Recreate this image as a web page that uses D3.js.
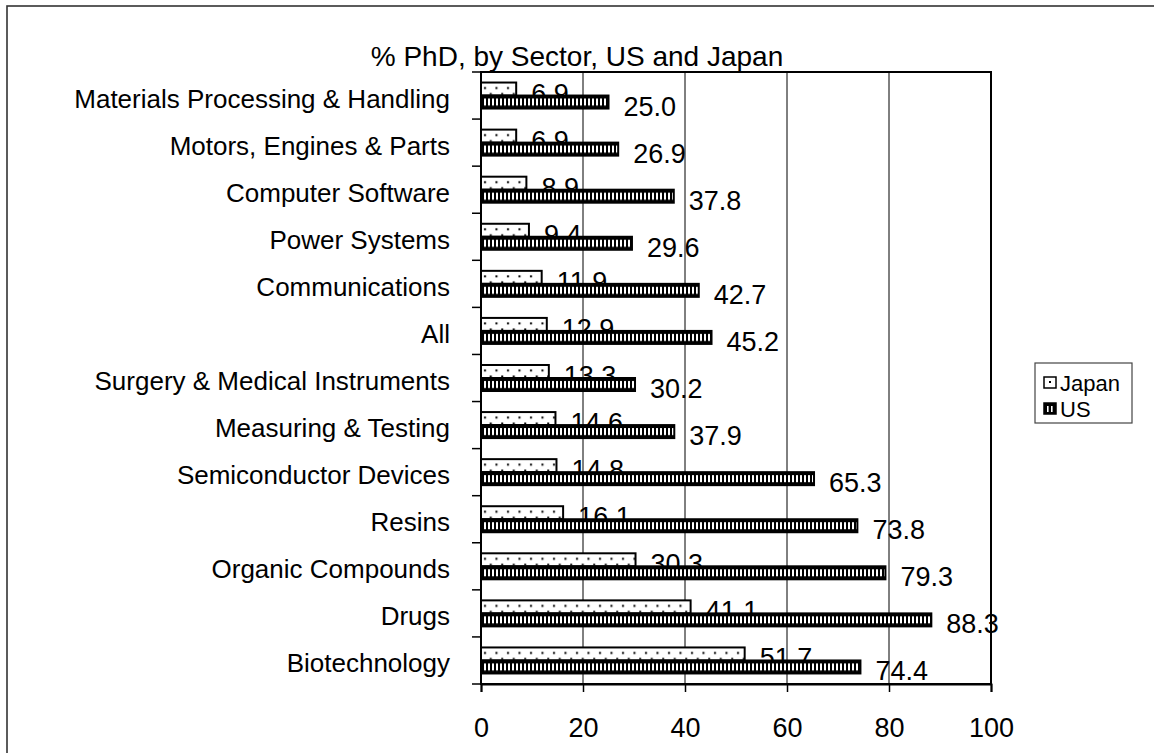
<!DOCTYPE html>
<html>
<head>
<meta charset="utf-8">
<script src="https://cdn.jsdelivr.net/npm/d3@7"></script>
<style>
  html, body { margin: 0; padding: 0; background: #fff; }
  svg { display: block; }
  text { font-family: "Liberation Sans", Arial, sans-serif; fill: #000; }
</style>
</head>
<body>
<svg id="chart" width="1154" height="753"></svg>
<script>
// ---- data ----
const categories = [
  "Materials Processing & Handling",
  "Motors, Engines & Parts",
  "Computer Software",
  "Power Systems",
  "Communications",
  "All",
  "Surgery & Medical Instruments",
  "Measuring & Testing",
  "Semiconductor Devices",
  "Resins",
  "Organic Compounds",
  "Drugs",
  "Biotechnology"
];
const japanValues = [6.9, 6.9, 8.9, 9.4, 11.9, 12.9, 13.3, 14.6, 14.8, 16.1, 30.3, 41.1, 51.7];
const usValues    = [25.0, 26.9, 37.8, 29.6, 42.7, 45.2, 30.2, 37.9, 65.3, 73.8, 79.3, 88.3, 74.4];
const seriesNames = ["Japan", "US"];
const xTicks = [0, 20, 40, 60, 80, 100];
const title = "% PhD, by Sector, US and Japan";

// ---- layout ----
const svg = d3.select("#chart");
const plot = { left: 481, right: 991, top: 72, bottom: 684 };

const x = d3.scaleLinear().domain([0, 100]).range([plot.left, plot.right]);
const y = d3.scaleBand().domain(categories).range([plot.top, plot.bottom]).padding(0);
const ySub = d3.scaleBand().domain(seriesNames).range([0, y.bandwidth()])
  .paddingInner(0).paddingOuter(0.81);
const bh = ySub.bandwidth();

const defs = svg.append("defs");
// dotted pattern for Japan
const pJ = defs.append("pattern").attr("id", "patJapan")
  .attr("patternUnits", "userSpaceOnUse")
  .attr("x", plot.left).attr("y", plot.top)
  .attr("width", 11.5).attr("height", y.step());
pJ.append("rect").attr("width", 11.5).attr("height", y.step()).attr("fill", "#fff");
pJ.append("rect").attr("x", 3).attr("y", ySub("Japan") + 4.5).attr("width", 2).attr("height", 2).attr("fill", "#000");
pJ.append("rect").attr("x", 8.75).attr("y", ySub("Japan") + 10.5).attr("width", 2).attr("height", 2).attr("fill", "#000");

// vertical stripe pattern for US
const pU = defs.append("pattern").attr("id", "patUS")
  .attr("patternUnits", "userSpaceOnUse")
  .attr("x", plot.left + 1).attr("y", plot.top)
  .attr("width", 4).attr("height", y.step());
pU.append("rect").attr("width", 4).attr("height", y.step()).attr("fill", "#000");
pU.append("rect").attr("x", 2).attr("y", ySub("US") + 3).attr("width", 2).attr("height", bh - 6).attr("fill", "#fff");

// ---- outer frame ----
svg.append("rect").attr("x", 7).attr("y", 6).attr("width", 1170).attr("height", 770)
  .attr("fill", "none").attr("stroke", "#333").attr("stroke-width", 1.6);

// ---- title ----
svg.append("text").attr("x", 577).attr("y", 66).attr("text-anchor", "middle")
  .style("font-size", "28px").text(title);

// ---- gridlines ----
svg.append("g").selectAll("line").data(xTicks.filter(d => d > 0 && d < 100)).join("line")
  .attr("x1", d => x(d)).attr("x2", d => x(d))
  .attr("y1", plot.top).attr("y2", plot.bottom)
  .attr("stroke", "#000").attr("stroke-width", 1);

// ---- bars ----
const rows = categories.map((c, i) => ({ cat: c, Japan: japanValues[i], US: usValues[i] }));

const gJ = svg.append("g");
gJ.selectAll("rect").data(rows).join("rect")
  .attr("x", x(0))
  .attr("y", d => y(d.cat) + ySub("Japan"))
  .attr("width", d => x(d.Japan) - x(0))
  .attr("height", bh)
  .attr("fill", "url(#patJapan)")
  .attr("stroke", "#000").attr("stroke-width", 2);

svg.append("g").selectAll("text").data(rows).join("text")
  .attr("x", d => x(d.Japan) + 15)
  .attr("y", d => y(d.cat) + ySub("Japan") + 20)
  .style("font-size", "27px")
  .text(d => d3.format(".1f")(d.Japan));

const gU = svg.append("g");
gU.selectAll("rect").data(rows).join("rect")
  .attr("x", x(0))
  .attr("y", d => y(d.cat) + ySub("US"))
  .attr("width", d => x(d.US) - x(0))
  .attr("height", bh)
  .attr("fill", "url(#patUS)")
  .attr("stroke", "#000").attr("stroke-width", 2);

svg.append("g").selectAll("text").data(rows).join("text")
  .attr("x", d => x(d.US) + 15)
  .attr("y", d => y(d.cat) + ySub("US") + 20)
  .style("font-size", "27px")
  .text(d => d3.format(".1f")(d.US));

// ---- plot border ----
svg.append("rect").attr("x", plot.left).attr("y", plot.top)
  .attr("width", plot.right - plot.left).attr("height", plot.bottom - plot.top)
  .attr("fill", "none").attr("stroke", "#000").attr("stroke-width", 2);

// ---- x axis ----
const xAxis = svg.append("g").attr("transform", `translate(0,${plot.bottom})`)
  .call(d3.axisBottom(x).tickValues(xTicks).tickFormat(d3.format("d")).tickSize(8).tickPadding(26));
xAxis.select(".domain").attr("stroke", "#000").attr("stroke-width", 2);
xAxis.selectAll(".tick line").attr("stroke", "#000").attr("stroke-width", 1.5);
xAxis.selectAll(".tick text").style("font-size", "27px")
  .style("font-family", "'Liberation Sans', Arial, sans-serif").attr("fill", "#000");

// ---- y axis (ticks at category boundaries) ----
const yBounds = categories.map(c => y(c)).concat([y.range()[1]]);
svg.append("g").selectAll("line").data(yBounds).join("line")
  .attr("x1", plot.left - 9).attr("x2", plot.left)
  .attr("y1", d => d).attr("y2", d => d)
  .attr("stroke", "#000").attr("stroke-width", 1.5);
svg.append("line").attr("x1", plot.left).attr("x2", plot.left)
  .attr("y1", plot.top).attr("y2", plot.bottom)
  .attr("stroke", "#000").attr("stroke-width", 2);

svg.append("g").selectAll("text").data(categories).join("text")
  .attr("x", 450)
  .attr("y", d => y(d) + y.bandwidth() / 2 + 12)
  .attr("text-anchor", "end")
  .style("font-size", "26px")
  .text(d => d);

// ---- legend ----
const leg = svg.append("g");
leg.append("rect").attr("x", 1035).attr("y", 363).attr("width", 97).attr("height", 60)
  .attr("fill", "#fff").attr("stroke", "#444").attr("stroke-width", 1.2);
const legItems = leg.selectAll("g.item").data(seriesNames).join("g")
  .attr("class", "item")
  .attr("transform", (d, i) => `translate(1044,${391 + i * 26})`);
legItems.append("rect").attr("x", 0).attr("y", -14).attr("width", 12).attr("height", 11)
  .attr("fill", d => d === "US" ? "#000" : "#fff")
  .attr("stroke", "#000").attr("stroke-width", 1.5);
legItems.filter(d => d === "US").selectAll("rect.s").data([3, 7]).join("rect")
  .attr("class", "s").attr("x", d => d).attr("y", -11).attr("width", 1.6).attr("height", 6)
  .attr("fill", "#fff");
legItems.filter(d => d === "Japan").append("rect")
  .attr("x", 5).attr("y", -10).attr("width", 2).attr("height", 2).attr("fill", "#000");
legItems.append("text").attr("x", 16).attr("y", 0)
  .style("font-size", "22px").text(d => d);
</script>
</body>
</html>
